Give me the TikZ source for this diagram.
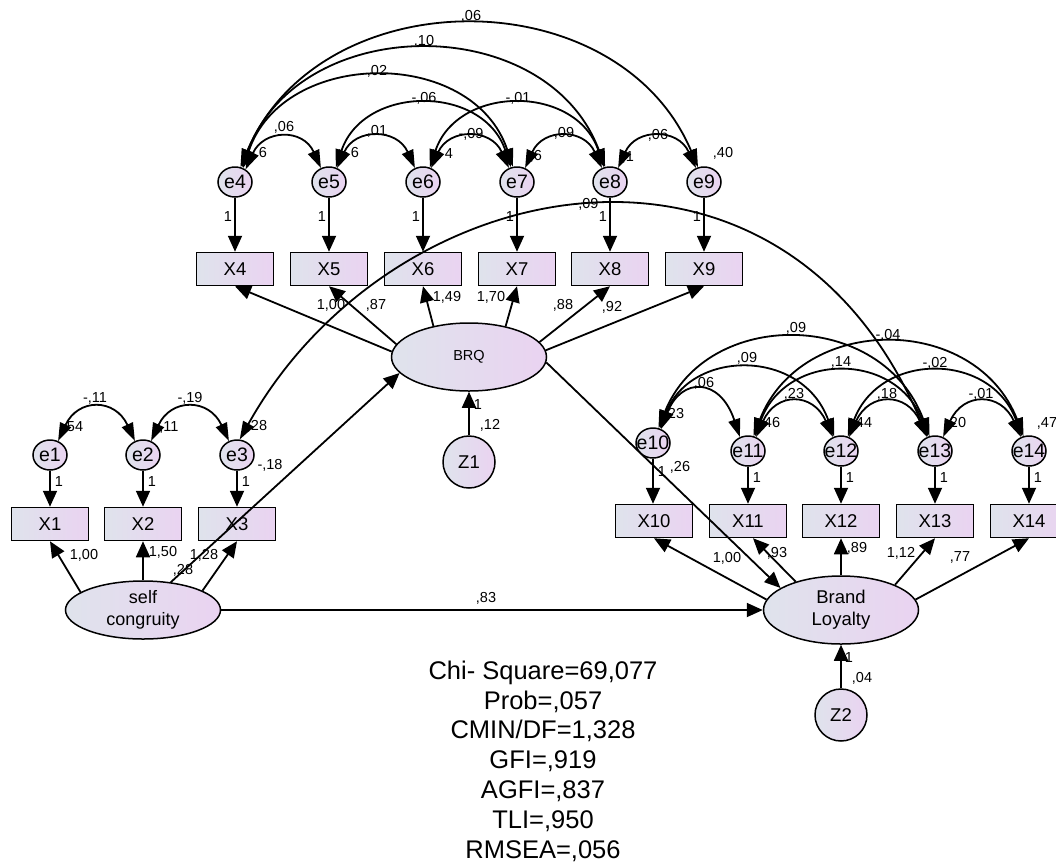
\documentclass[tikz,border=0pt]{standalone}
\usepackage{fontspec}
\setmainfont{Liberation Sans}
\usetikzlibrary{arrows.meta,shapes.geometric}
\definecolor{cL}{HTML}{DFE3EC}
\definecolor{cR}{HTML}{EAD3F1}
\begin{document}
\begin{tikzpicture}[x=1pt,y=-1pt,
  obs/.style={draw=black,line width=1.5pt,left color=cL,right color=cR,minimum width=77pt,minimum height=33pt,inner sep=0pt,font=\fontsize{18.5}{20}\selectfont},
  err/.style={ellipse,draw=black,line width=1.5pt,left color=cL,right color=cR,minimum width=34pt,minimum height=30pt,inner sep=0pt},
  efont/.style={font=\fontsize{19.5}{20}\selectfont,inner sep=0pt},
  lat/.style={ellipse,draw=black,line width=1.5pt,left color=cL,right color=cR,minimum width=155pt,minimum height=68pt,inner sep=0pt,align=center,font=\fontsize{18.5}{22}\selectfont},
  dist/.style={circle,draw=black,line width=1.5pt,left color=cL,right color=cR,minimum size=52pt,inner sep=0pt,font=\fontsize{18.5}{20}\selectfont},
  lbl/.style={font=\fontsize{14.5}{16}\selectfont,inner sep=0pt},
  reg/.style={line width=1.8pt,-{Triangle[length=16pt,width=14pt]}},
  cov/.style={line width=1.8pt,{Triangle[length=18pt,width=12pt]}-{Triangle[length=18pt,width=12pt]}}
]
\useasboundingbox (0,0) rectangle (1056,865);

% ---------- nodes ----------
\foreach \n/\x in {4/235,5/329,6/423,7/517,8/610,9/704}{
  \node[err,label={[efont]center:e\n}] (e\n) at (\x,182) {};
  \node[obs] (X\n) at (\x,269) {X\n};
}
\foreach \n/\x in {1/50,2/143,3/237}{
  \node[err,label={[efont]center:e\n}] (e\n) at (\x,455) {};
  \node[obs] (X\n) at (\x,524) {X\n};
}
\node[err,label={[efont]center:e10}] (e10) at (653,443) {};
\foreach \n/\x in {11/748,12/841,13/935,14/1029}{
  \node[err,label={[efont]center:e\n}] (e\n) at (\x,451) {};
}
\foreach \n/\x in {10/654,11/748,12/841,13/935,14/1029}{
  \node[obs] (X\n) at (\x,521) {X\n};
}
\node[lat,minimum height=58pt,font=\fontsize{18}{21.5}\selectfont] (SC) at (143,610) {self\\congruity};
\node[lat,font=\fontsize{14.5}{16}\selectfont] (BRQ) at (469,357) {BRQ};
\node[lat] (BL) at (841,610) {Brand\\Loyalty};
\node[dist] (Z1) at (469,462) {Z1};
\node[dist] (Z2) at (841,715) {Z2};

% ---------- labels ----------
\foreach \x in {228,322,416,510,603,697}{ \node[lbl] at (\x,217) {1}; }
\foreach \x in {59,152,246}{ \node[lbl] at (\x,482) {1}; }
\foreach \x in {757,850,944,1038}{ \node[lbl] at (\x,478) {1}; }
\node[lbl] (l10) at (662,472) {1};
\node[lbl] at (680,467) {,26};
% variances
\node[lbl] at (263,153) {6};
\node[lbl] at (355,153) {6};
\node[lbl] at (449,154) {4};
\node[lbl] at (536,156) {,6};
\node[lbl] at (628,157) {,1};
\node[lbl] at (723,153) {,40};
\node[lbl] at (73,427) {,54};
\node[lbl] at (169,427) {,11};
\node[lbl] at (257,426) {,28};
\node[lbl] at (674,414) {,23};
\node[lbl] at (770,423) {,46};
\node[lbl] at (862,423) {,44};
\node[lbl] at (956,423) {,20};
\node[lbl] at (1047,423) {,47};
% covariance labels
\node[lbl] at (471,16) {,06};
\node[lbl] at (424,41) {,10};
\node[lbl] at (377,71) {,02};
\node[lbl] at (424,98) {-,06};
\node[lbl] at (518,98) {-,01};
\node[lbl] at (284,127) {,06};
\node[lbl] at (377,131) {,01};
\node[lbl] at (471,134) {-,09};
\node[lbl] at (564,133) {,09};
\node[lbl] at (658,135) {,06};
\node[lbl] at (586,204) {-,09};
\node[lbl] at (95,398) {-,11};
\node[lbl] at (190,398) {-,19};
\node[lbl] at (796,328) {,09};
\node[lbl] at (888,335) {-,04};
\node[lbl] at (747,358) {,09};
\node[lbl] at (841,362) {,14};
\node[lbl] at (935,363) {-,02};
\node[lbl] at (704,383) {,06};
\node[lbl] at (794,394) {,23};
\node[lbl] at (887,394) {,18};
\node[lbl] at (981,394) {-,01};
% regression labels
\node[lbl] at (84,555) {1,00};
\node[lbl] at (163,552) {1,50};
\node[lbl] at (204,555) {1,28};
\node[lbl] at (183,570) {,28};
\node[lbl] at (270,465) {-,18};
\node[lbl] at (486,598) {,83};
\node[lbl] at (331,305) {1,00};
\node[lbl] at (376,305) {,87};
\node[lbl] at (447,297) {1,49};
\node[lbl] at (491,297) {1,70};
\node[lbl] at (563,305) {,88};
\node[lbl] at (612,307) {,92};
\node[lbl] at (478,405) {1};
\node[lbl] at (490,425) {,12};
\node[lbl] at (849,657) {1};
\node[lbl] at (862,678) {,04};
\node[lbl] at (727,558) {1,00};
\node[lbl] at (777,553) {,93};
\node[lbl] at (857,548) {,89};
\node[lbl] at (901,553) {1,12};
\node[lbl] at (960,557) {,77};

% fit statistics
\node[align=center,font=\fontsize{25.5}{29.8}\selectfont,inner sep=0pt] (fit) at (543,761)
 {Chi- Square=69,077\\Prob=,057\\CMIN/DF=1,328\\GFI=,919\\AGFI=,837\\TLI=,950\\RMSEA=,056};

% ---------- error to indicator ----------
\foreach \n in {1,...,9,11,12,13,14}{ \draw[reg] (e\n.south) -- (X\n.north); }
\draw[reg] (e10.south) -- (e10.south |- X10.north);

% ---------- structural paths ----------
\draw[reg] (SC.164) -- (X1.south);
\draw[reg] (SC.north) -- (X2.south);
\draw[reg] (SC.18) -- (X3.south);
\draw[reg] (SC.45) -- (BRQ.193);
\draw[reg] (SC.east) -- (BL.west);
\draw[reg] (BRQ.176) -- (X4.south);
\draw[reg] (BRQ.170) -- (X5.south);
\draw[reg] (BRQ.139) -- (X6.south);
\draw[reg] (BRQ.40) -- (X7.south);
\draw[reg] (BRQ.12) -- (X8.south);
\draw[reg] (BRQ.5) -- (X9.south);
\draw[reg] (BRQ.-4) -- (BL.160);
\draw[reg] (BL.172) -- (X10.south);
\draw[reg] (BL.148) -- ([xshift=5pt]X11.south);
\draw[reg] (BL.north) -- (X12.south);
\draw[reg] (BL.25) -- (X13.south);
\draw[reg] (BL.8) -- (X14.south);
\draw[reg] (Z1.north) -- (BRQ.south);
\draw[reg] (Z2.north) -- (BL.south);

% ---------- covariances: top ----------
\draw[cov] (e4.50) .. controls +(18,-40) and +(-18,-40) .. (e5.120);
\draw[cov] (e5.60) .. controls +(18,-40) and +(-18,-40) .. (e6.120);
\draw[cov] (e6.60) .. controls +(18,-40) and +(-18,-40) .. (e7.120);
\draw[cov] (e7.60) .. controls +(18,-40) and +(-18,-40) .. (e8.120);
\draw[cov] (e8.60) .. controls +(18,-40) and +(-18,-40) .. (e9.120);
\draw[cov] (e5.65) .. controls +(28,-83) and +(-28,-83) .. (e7.112);
\draw[cov] (e6.65) .. controls +(28,-83) and +(-28,-83) .. (e8.112);
\draw[cov] (e4.60) .. controls +(40,-120) and +(-40,-120) .. (e7.105);
\draw[cov] (e4.65) .. controls +(58,-156) and +(-58,-156) .. (e8.108);
\draw[cov] (e4.70) .. controls +(80,-189) and +(-80,-189) .. (e9.112);
% ---------- covariances: left ----------
\draw[cov] (e1.60) .. controls +(20,-43) and +(-20,-43) .. (e2.120);
\draw[cov] (e2.60) .. controls +(20,-43) and +(-20,-43) .. (e3.120);
% ---------- covariances: right ----------
\draw[cov] (e10.60) .. controls +(20,-52) and +(-20,-60) .. (e11.120);
\draw[cov] (e11.60) .. controls +(20,-45) and +(-20,-45) .. (e12.120);
\draw[cov] (e12.60) .. controls +(20,-45) and +(-20,-45) .. (e13.120);
\draw[cov] (e13.60) .. controls +(20,-45) and +(-20,-45) .. (e14.120);
\draw[cov] (e10.65) .. controls +(32,-80) and +(-32,-88) .. (e12.115);
\draw[cov] (e11.65) .. controls +(32,-85) and +(-32,-85) .. (e13.115);
\draw[cov] (e12.65) .. controls +(32,-85) and +(-32,-85) .. (e14.115);
\draw[cov] (e10.70) .. controls +(48,-120) and +(-48,-128) .. (e13.110);
\draw[cov] (e11.70) .. controls +(48,-123) and +(-48,-123) .. (e14.110);
% ---------- e3 <-> e13 ----------
\draw[cov] (e3.80) .. controls (390,170) and (780,90) .. (e13.118);
\end{tikzpicture}
\end{document}
